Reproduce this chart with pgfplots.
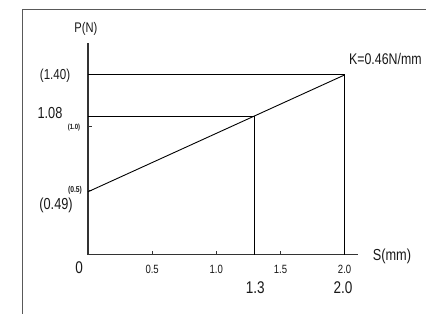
\documentclass[border=0pt]{standalone}
\usepackage{pgfplots}
\pgfplotsset{compat=1.18}
\usepackage{fontspec}
\setmainfont{Liberation Sans}[FakeStretch=0.8]
\begin{document}
\begin{tikzpicture}
\useasboundingbox (0bp,0bp) rectangle (426bp,314bp);
\fill[white] (0bp,0bp) rectangle (426bp,314bp);
\draw[line width=1bp, black!65] (22bp,-10bp) -- (22bp,304bp) -- (440bp,304bp);
\begin{axis}[
  anchor=origin, at={(88bp,59.3bp)},
  x=128.3bp, y=128.4bp,
  xmin=0, xmax=2.104, ymin=0, ymax=1.649,
  axis x line=bottom, axis y line=left,
  axis line style={-, line width=1.2bp, black!80},
  xtick={0.5,1,1.5,2}, ytick={0.5,1},
  xticklabels={}, yticklabels={},
  tick align=inside, major tick length=3.5bp,
  tick style={line width=1bp, black!80},
  clip=false,
]
\addplot[black, line width=0.9bp] coordinates {(0,0.49) (2.0,1.40)};
\addplot[black, line width=0.9bp] coordinates {(0,1.40) (2.0,1.40) (2.0,0)};
\addplot[black, line width=0.9bp] coordinates {(0,1.08) (1.3,1.08) (1.3,0)};
\node[font=\fontsize{14}{14}\selectfont, text=black!90] at (axis cs:-0.016,1.758) {P(N)};
\node[font=\fontsize{14.5}{14.5}\selectfont, text=black!90] at (axis cs:-0.257,1.39) {(1.40)};
\node[font=\fontsize{16}{16}\selectfont, text=black!90] at (axis cs:-0.296,1.10) {1.08};
\node[font=\fontsize{7.5}{7.5}\selectfont\bfseries, text=black!90] at (axis cs:-0.109,0.994) {(1.0)};
\node[font=\fontsize{8.5}{8.5}\selectfont\bfseries, text=black!90] at (axis cs:-0.101,0.504) {(0.5)};
\node[font=\fontsize{16}{16}\selectfont, text=black!90] at (axis cs:-0.249,0.387) {(0.49)};
\node[font=\fontsize{17}{17}\selectfont, text=black!90] at (axis cs:-0.070,-0.103) {0};
\node[font=\fontsize{12}{12}\selectfont, text=black!90] at (axis cs:0.5,-0.111) {0.5};
\node[font=\fontsize{12}{12}\selectfont, text=black!90] at (axis cs:1.0,-0.111) {1.0};
\node[font=\fontsize{12}{12}\selectfont, text=black!90] at (axis cs:1.5,-0.111) {1.5};
\node[font=\fontsize{12}{12}\selectfont, text=black!90] at (axis cs:2.0,-0.111) {2.0};
\node[font=\fontsize{17}{17}\selectfont, text=black!90] at (axis cs:1.303,-0.259) {1.3};
\node[font=\fontsize{17}{17}\selectfont, text=black!90] at (axis cs:1.988,-0.259) {2.0};
\node[font=\fontsize{16}{16}\selectfont, text=black!90] at (axis cs:2.369,-0.010) {S(mm)};
\node[font=\fontsize{15.5}{15.5}\selectfont, text=black!90, anchor=west, inner sep=0pt] at (axis cs:2.034,1.524) {K=0.46N/mm};
\end{axis}
\end{tikzpicture}
\end{document}
